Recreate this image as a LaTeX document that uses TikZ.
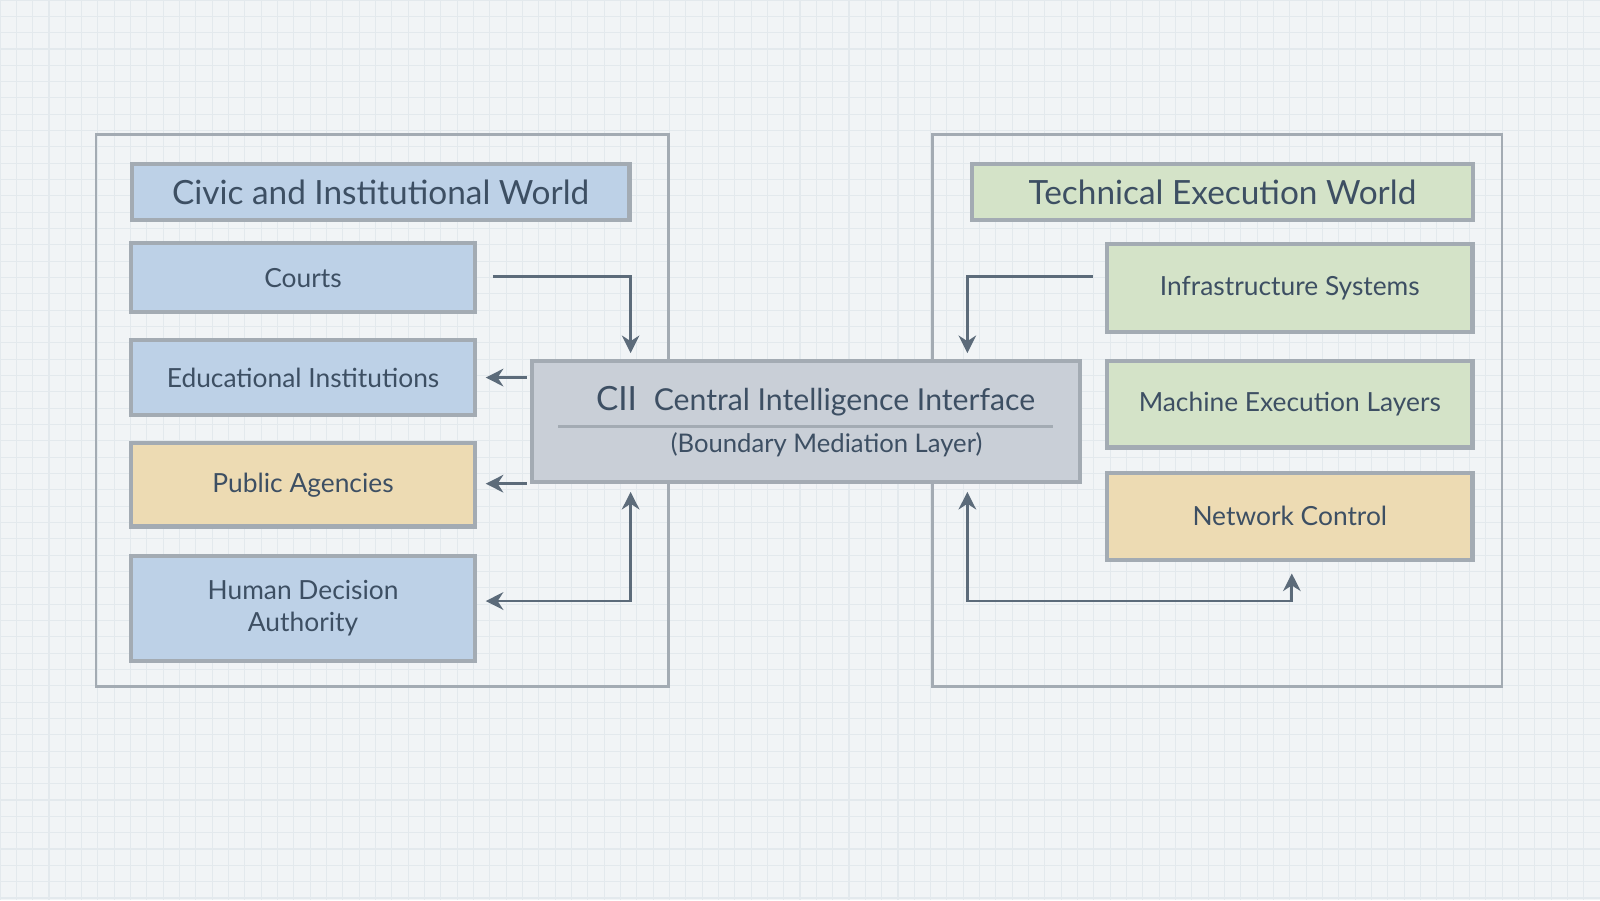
\documentclass[tikz,border=0pt]{standalone}
\usepackage{fontspec}
\setmainfont{Lato}
\usetikzlibrary{arrows.meta}
\newcommand\pxu{0.010204cm}
\definecolor{bgc}{HTML}{F1F4F6}
\definecolor{gridc}{HTML}{E3E9ED}
\definecolor{inkc}{HTML}{3D4F63}
\definecolor{linec}{HTML}{5C6B7A}
\definecolor{framec}{HTML}{A3ABB3}
\definecolor{bluec}{HTML}{BDD1E7}
\definecolor{orangec}{HTML}{EDDBB3}
\definecolor{greenc}{HTML}{D4E3C8}
\definecolor{greyc}{HTML}{C9CFD7}
\tikzset{
  box/.style={draw=framec, line width=1.2pt, text=inkc, align=center, inner sep=0pt},
  civic/.style={box, fill=bluec},
  agency/.style={box, fill=orangec},
  tech/.style={box, fill=greenc},
  title/.style={font=\fontsize{9.5}{11}\selectfont},
  item/.style={font=\fontsize{7.5}{9}\selectfont},
  link/.style={draw=linec, line width=0.8pt, -{Stealth[length=5pt,width=5pt]}},
  twoway/.style={draw=linec, line width=0.8pt, {Stealth[length=5pt,width=5pt]}-{Stealth[length=5pt,width=5pt]}},
}
\begin{document}
\begin{tikzpicture}[x=\pxu, y=-\pxu]
\useasboundingbox (0,0) rectangle (1568,882);
\fill[bgc] (0,0) rectangle (1568,882);
\foreach \gx in {0,16,...,1568} \draw[gridc, line width=0.3pt] (\gx,0) -- (\gx,882);
\foreach \gy in {0,16,...,882} \draw[gridc, line width=0.3pt] (0,\gy) -- (1568,\gy);
% worlds
\draw[framec, line width=0.8pt] (94,132) rectangle (655,673);
\draw[framec, line width=0.8pt] (914,132) rectangle (1472,673);
\node[civic, title, minimum width=488*\pxu, minimum height=55*\pxu] (civic) at (373,188) {Civic and Institutional World};
\node[tech, title, minimum width=491*\pxu, minimum height=55*\pxu] (techw) at (1198,188) {Technical Execution World};
% civic side
\node[civic, item, minimum width=337*\pxu, minimum height=67*\pxu] (courts) at (297,272) {Courts};
\node[civic, item, minimum width=337*\pxu, minimum height=74*\pxu] (edu) at (297,370) {Educational Institutions};
\node[agency, item, minimum width=337*\pxu, minimum height=82*\pxu] (public) at (297,475) {Public Agencies};
\node[civic, item, minimum width=337*\pxu, minimum height=103*\pxu] (human) at (297,596) {Human Decision\\Authority};
% technical side
\node[tech, item, minimum width=358*\pxu, minimum height=86*\pxu] (infra) at (1264,282) {Infrastructure Systems};
\node[tech, item, minimum width=358*\pxu, minimum height=85*\pxu] (machine) at (1264,396) {Machine Execution Layers};
\node[agency, item, minimum width=358*\pxu, minimum height=85*\pxu] (net) at (1264,506) {Network Control};
% interface
\node[box, fill=greyc, minimum width=537*\pxu, minimum height=118*\pxu] (cii) at (790,413) {};
\node[text=inkc, anchor=west, font=\fontsize{9.5}{12}\selectfont] (ciiname) at (572,393) {CII\hspace{0.5em}{\fontsize{8.6}{11}\selectfont Central Intelligence Interface}};
\draw[framec, line width=0.6pt] (547,418) -- (1032,418);
\node[text=inkc, font=\fontsize{7.3}{9}\selectfont] (ciisub) at (810,436) {(Boundary Mediation Layer)};
% connectors
\coordinate (c1) at (483,271);
\coordinate (c2) at (618,346);
\coordinate (e1) at (516,370);
\coordinate (e2) at (476,370);
\coordinate (p1) at (516,474);
\coordinate (p2) at (476,474);
\coordinate (h1) at (476,589);
\coordinate (h2) at (618,482);
\coordinate (i1) at (1071,271);
\coordinate (i2) at (948,346);
\coordinate (n1) at (948,482);
\coordinate (n2) at (1266,562);
\draw[link] (c1) -| (c2);
\draw[link] (e1) -- (e2);
\draw[link] (p1) -- (p2);
\draw[twoway] (h1) -| (h2);
\draw[link] (i1) -| (i2);
\draw[twoway] (n1) |- (948,589) -| (n2);
\end{tikzpicture}
\end{document}
